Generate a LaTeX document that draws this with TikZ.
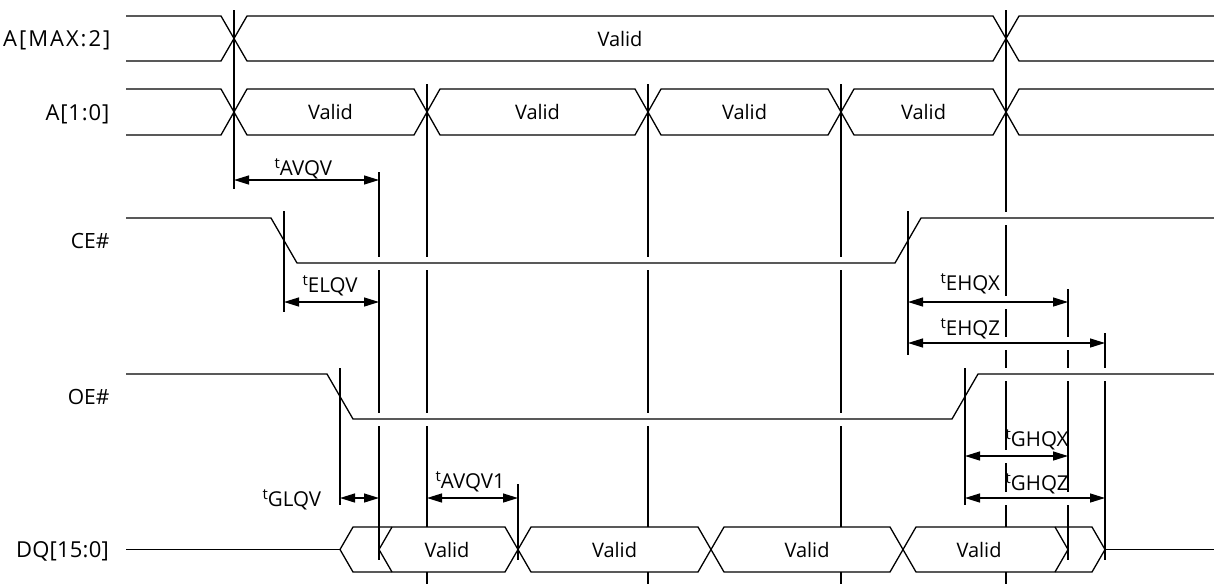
\documentclass[tikz,border=0pt]{standalone}
\usepackage{fontspec}
\setmainfont{Open Sans}
\newfontfamily\spacedA[LetterSpace=9]{Open Sans}
\newfontfamily\spacedB[LetterSpace=4]{Open Sans}
\newfontfamily\spacedC[LetterSpace=1]{Open Sans}
\usetikzlibrary{arrows.meta}
% timing parameter name: small raised "t" followed by the symbol
\newcommand{\tparam}[1]{\raisebox{6.5pt}{\fontsize{15}{15}\selectfont t}#1}
\begin{document}
\begin{tikzpicture}[x=1pt, y=-1pt, line width=1.3pt,
  wave/.style={line width=1.3pt, line join=miter},
  refline/.style={line width=1.3pt},
  gapmask/.style={draw=white, line width=13pt},
  dimarrow/.style={{Triangle[length=15pt,width=9pt]}-{Triangle[length=15pt,width=9pt]},
    preaction={draw=white, line width=13pt, -, shorten <=4pt, shorten >=4pt}},
  siglabel/.style={font=\fontsize{21}{24}\selectfont, inner sep=0pt, anchor=base east},
  buslabel/.style={font=\fontsize{22}{25}\selectfont, inner sep=0pt, anchor=base east},
  val/.style={font=\fontsize{20}{24}\selectfont, inner sep=0pt, anchor=base},
  tlabel/.style={font=\fontsize{20.5}{24}\selectfont, inner sep=0pt, anchor=base west}]

\useasboundingbox (0,0) rectangle (1214,584);

% ---- reference (timing) lines ----
\draw[refline] (234,10) -- (234,189);
\draw[refline] (1006,10) -- (1006,527) (1006,572) -- (1006,584);
\foreach \x in {427,648,841}
  \draw[refline] (\x,84) -- (\x,527) (\x,572) -- (\x,584);
\draw[refline] (379,172) -- (379,560);
\draw[refline] (284,211) -- (284,312);
\draw[refline] (908,211) -- (908,355);
\draw[refline] (340,368) -- (340,505);
\draw[refline] (965,368) -- (965,505);
\draw[refline] (1068,289) -- (1068,560);
\draw[refline] (1105,333) -- (1105,560);
\draw[refline] (518,484) -- (518,560);

% ---- breaks where reference lines pass behind level lines ----
\path[gapmask] (297,263) -- (895,263);
\path[gapmask] (353,419) -- (952,419);
\path[gapmask] (921,218) -- (1214,218);
\path[gapmask] (978,374) -- (1214,374);

% ---- signal names ----
\node[buslabel] (nAmax) at (111,46.5) {\spacedA A[MAX:2]};
\node[buslabel] (nAlow) at (110,120) {\spacedB A[1:0]};
\node[siglabel] (nCE) at (110,248) {CE\#};
\node[siglabel] (nOE) at (110,404) {OE\#};
\node[buslabel] (nDQ) at (109.5,557.5) {\spacedC DQ[15:0]};

% ---- A[MAX:2] ----
\draw[wave] (126,16) -- (221,16) -- (247,61) -- (993,61) -- (1019,16) -- (1214,16);
\draw[wave] (126,61) -- (221,61) -- (247,16) -- (993,16) -- (1019,61) -- (1214,61);
\node[val] (vAmax) at (620,46) {Valid};

% ---- A[1:0] ----
\draw[wave] (126,89) -- (221,89) -- (234,112) -- (221,135) -- (126,135);
\foreach \a/\b in {234/427,427/648,648/841,841/1006}
  \draw[wave] (\a,112) -- ({\a+13},89) -- ({\b-13},89) -- (\b,112)
              -- ({\b-13},135) -- ({\a+13},135) -- cycle;
\draw[wave] (1214,89) -- (1019,89) -- (1006,112) -- (1019,135) -- (1214,135);
\node[val] (vA1) at (330.5,119.5) {Valid};
\node[val] (vA2) at (537.5,119.5) {Valid};
\node[val] (vA3) at (744.5,119.5) {Valid};
\node[val] (vA4) at (923.5,119.5) {Valid};

% ---- CE# and OE# ----
\draw[wave] (126,218) -- (271,218) -- (297,263) -- (895,263) -- (921,218) -- (1214,218);
\draw[wave] (126,374) -- (327,374) -- (353,419) -- (952,419) -- (978,374) -- (1214,374);

% ---- DQ[15:0] ----
\draw[wave] (126,549.5) -- (340,549.5);
\draw[wave] (340,549.5) -- (353,527) -- (505,527) -- (518,549.5) -- (505,572) -- (353,572) -- cycle;
\draw[wave] (392,527) -- (379,549.5) -- (392,572);
\draw[wave] (518,549.5) -- (531,527) -- (698,527) -- (711,549.5) -- (698,572) -- (531,572) -- cycle;
\draw[wave] (711,549.5) -- (724,527) -- (890,527) -- (903,549.5) -- (890,572) -- (724,572) -- cycle;
\draw[wave] (903,549.5) -- (916,527) -- (1092,527) -- (1105,549.5) -- (1092,572) -- (916,572) -- cycle;
\draw[wave] (1055,527) -- (1068,549.5) -- (1055,572);
\draw[wave] (1105,549.5) -- (1214,549.5);
\node[val] (vD1) at (447,557) {Valid};
\node[val] (vD2) at (614.5,557) {Valid};
\node[val] (vD3) at (807,557) {Valid};
\node[val] (vD4) at (979,557) {Valid};

% ---- timing parameters ----
\coordinate (avqvL) at (234,180);   \coordinate (avqvR) at (379,180);
\coordinate (elqvL) at (284,302);   \coordinate (elqvR) at (379,302);
\coordinate (ehqxL) at (908,302);   \coordinate (ehqxR) at (1068,302);
\coordinate (ehqzL) at (908,343);   \coordinate (ehqzR) at (1105,343);
\coordinate (ghqxL) at (965,456);   \coordinate (ghqxR) at (1068,456);
\coordinate (ghqzL) at (965,498);   \coordinate (ghqzR) at (1105,498);
\coordinate (glqvL) at (340,498);   \coordinate (glqvR) at (379,498);
\coordinate (avqv1L) at (427,498);  \coordinate (avqv1R) at (518,498);

\draw[dimarrow] (avqvL) -- (avqvR);
\draw[dimarrow] (elqvL) -- (elqvR);
\draw[dimarrow] (ehqxL) -- (ehqxR);
\draw[dimarrow] (ehqzL) -- (ehqzR);
\draw[dimarrow] (ghqxL) -- (ghqxR);
\draw[dimarrow] (ghqzL) -- (ghqzR);
\draw[dimarrow] (glqvL) -- (glqvR);
\draw[dimarrow] (avqv1L) -- (avqv1R);

\node[tlabel] (tAVQV) at (274,175) {\tparam{AVQV}};
\node[tlabel] (tELQV) at (302,292) {\tparam{ELQV}};
\node[tlabel] (tEHQX) at (940,290) {\tparam{EHQX}};
\node[tlabel] (tEHQZ) at (940,335) {\tparam{EHQZ}};
\node[tlabel] (tGHQX) at (1005,446) {\tparam{GHQX}};
\node[tlabel] (tGHQZ) at (1005,490) {\tparam{GHQZ}};
\node[tlabel] (tGLQV) at (262,506) {\tparam{GLQV}};
\node[tlabel] (tAVQV1) at (435,488) {\tparam{AVQV1}};
\end{tikzpicture}
\end{document}
